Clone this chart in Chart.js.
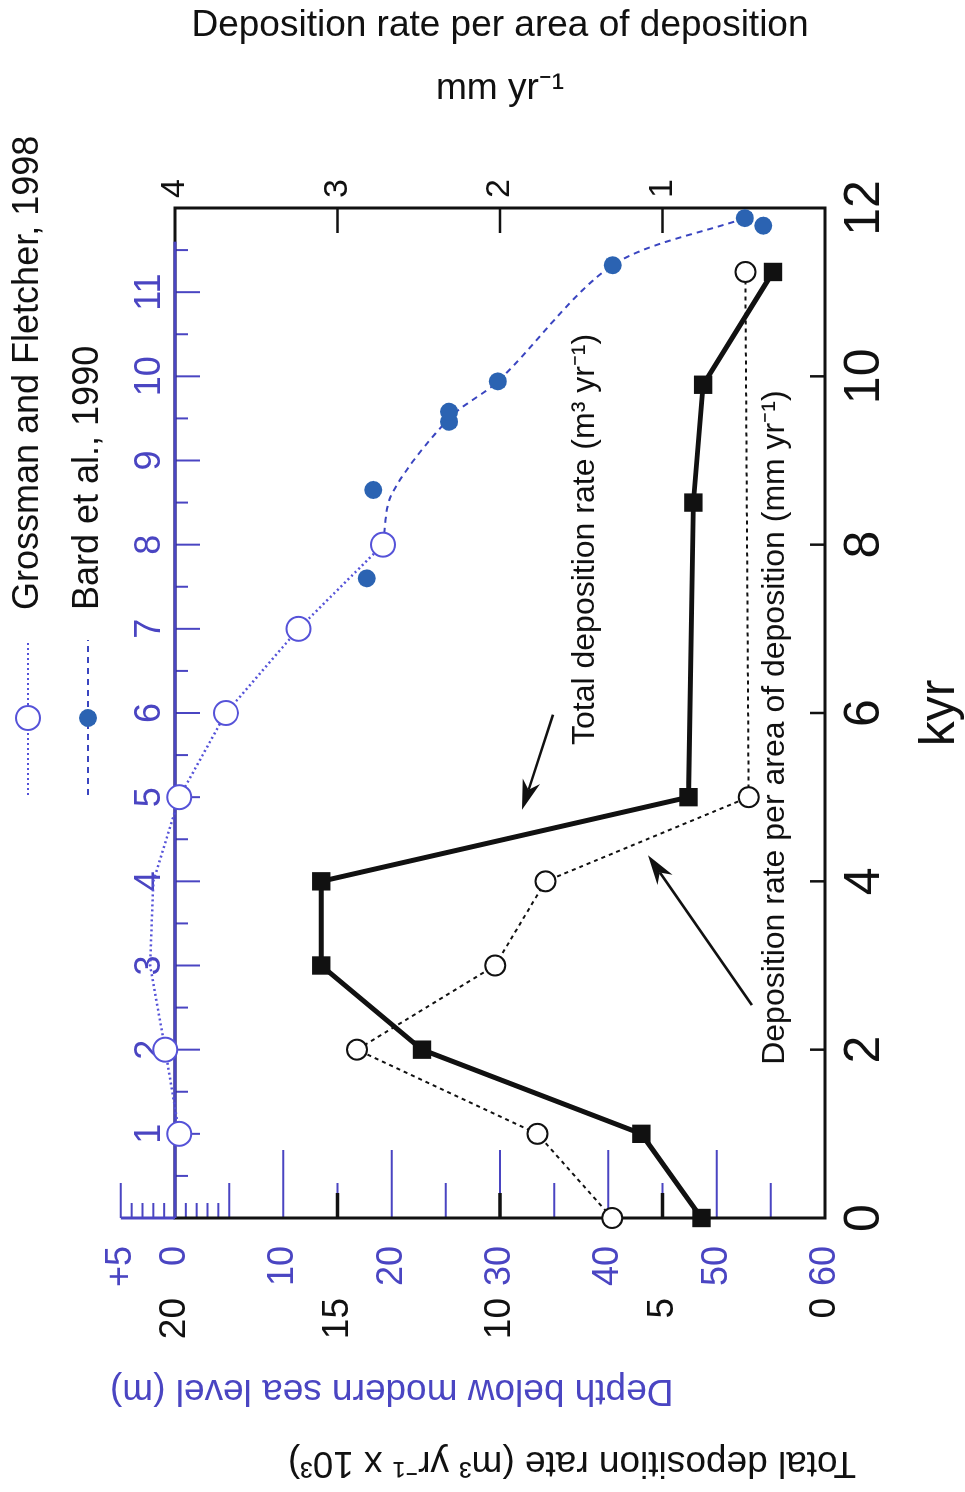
<!DOCTYPE html>
<html>
<head>
<meta charset="utf-8">
<title>Deposition rates, 0-12 kyr</title>
<script src="https://cdn.jsdelivr.net/npm/chart.js@4.4.1/dist/chart.umd.min.js"></script>
<style>
    html, body { margin: 0; padding: 0; background: #fff; overflow: hidden; }
    body { width: 965px; height: 1492px; position: relative; }
    /* the figure is laid out landscape and then turned a quarter turn counter-clockwise */
    #figure {
        position: absolute; left: 0; top: 0;
        width: 1492px; height: 965px;
        transform-origin: 0 0;
        transform: translateY(1492px) rotate(-90deg);
    }
</style>
</head>
<body>
<div id="figure"><canvas id="depositionChart" width="1492" height="965"></canvas></div>
<script>
// Axis ticks
const kyrTicks = [0, 2, 4, 6, 8, 10, 12];
const kyrTopTicks = [1, 2, 3, 4, 5, 6, 7, 8, 9, 10, 11];
const kyrTopHalfTicks = [0.5, 1.5, 2.5, 3.5, 4.5, 5.5, 6.5, 7.5, 8.5, 9.5, 10.5, 11.5];
const kyrInnerTicks = [2, 4, 6, 8, 10];
const depthTicks = [-5, 0, 10, 20, 30, 40, 50, 60];
const depthLongTicks = [10, 20, 30, 40, 50];
const depthMidTicks = [-5, 5, 15, 25, 35, 45, 55];
const depthShortTicks = [-4, -3, -2, -1, 1, 2, 3, 4];
const totalTicks = [0, 5, 10, 15, 20];
const totalInnerTicks = [5, 10, 15];
const rateTicks = [1, 2, 3, 4];
const rateInnerTicks = [1, 2, 3];

// Grossman and Fletcher, 1998 - depth below modern sea level (m)
const gfKyr = [1, 2, 3, 4, 5, 6, 7, 8];
const gfDepth = [0.4, -0.9, -2.3, -2.0, 0.4, 4.7, 11.4, 19.2];

// Bard et al., 1990 - dated samples and their dashed curve
const bardKyr = [7.6, 8.65, 9.46, 9.58, 9.94, 11.32, 11.79, 11.88];
const bardDepth = [17.7, 18.3, 25.3, 25.3, 29.8, 40.4, 54.3, 52.6];
const bardCurveKyr = [8.0, 8.6, 9.5, 9.94, 11.32, 11.88];
const bardCurveDepth = [19.2, 20.0, 25.3, 29.8, 40.4, 52.6];

// Total deposition rate (m3 yr-1 x 10^3)
const totalKyr = [0, 1, 2, 3, 4, 5, 8.5, 9.9, 11.24];
const totalRate = [3.8, 5.65, 12.4, 15.5, 15.5, 4.2, 4.05, 3.75, 1.6];

// Deposition rate per area of deposition (mm yr-1)
const areaKyr = [0, 1, 2, 3, 4, 5, 11.24];
const areaRate = [1.31, 1.77, 2.88, 2.03, 1.72, 0.47, 0.49];

// Annotations, placed in data units (kyr, total deposition rate)
const notes = [
    { text: 'Total deposition rate (m³ yr⁻¹)', kyr: 5.62, value: 7.38 },
    { text: 'Deposition rate per area of deposition (mm yr⁻¹)', kyr: 1.82, value: 1.54 }
];
const arrows = [
    { fromKyr: 5.98, fromValue: 8.37, toKyr: 4.85, toValue: 9.32 },
    { fromKyr: 2.53, fromValue: 2.25, toKyr: 4.31, toValue: 5.45 }
];

const INK = '#111111';
const BLUE_TEXT = '#4a45c2';
const GF_BLUE = '#5552d8';
const BARD_BLUE = '#2b63b2';
const BARD_LINE = '#3a45c0';
const FAMILY = '"Liberation Sans", Arial, Helvetica, sans-serif';
const font = size => size + 'px ' + FAMILY;

Chart.defaults.font.family = FAMILY;
Chart.defaults.color = INK;

const toPoints = (xs, ys) => xs.map((x, i) => ({ x: x, y: ys[i] }));
const setTicks = values => scale => { scale.ticks = values.map(v => ({ value: v })); };

/**
 * Frame, inward ticks, side titles, annotations and legend
 */
const figureDecor = {
    id: 'figureDecor',
    beforeDatasetsDraw(chart) {
        const { ctx, chartArea: a, scales } = chart;
        const { x, xTop, depth, total, rate } = scales;

        const tick = (x1, y1, x2, y2, color, width) => {
            ctx.strokeStyle = color;
            ctx.lineWidth = width;
            ctx.beginPath();
            ctx.moveTo(x1, y1);
            ctx.lineTo(x2, y2);
            ctx.stroke();
        };

        ctx.save();
        // depth ticks along the left edge (some sit above the frame, up to +5 m)
        depthLongTicks.forEach(v => { const p = depth.getPixelForValue(v); tick(a.left, p, a.left + 68, p, BLUE_TEXT, 2); });
        depthMidTicks.forEach(v => { const p = depth.getPixelForValue(v); tick(a.left, p, a.left + 35, p, BLUE_TEXT, 2); });
        depthShortTicks.forEach(v => { const p = depth.getPixelForValue(v); tick(a.left, p, a.left + 15, p, BLUE_TEXT, 2); });
        totalInnerTicks.forEach(v => { const p = total.getPixelForValue(v); tick(a.left, p, a.left + 25, p, INK, 3.5); });

        // kyr ticks on the top edge (blue) and bottom edge
        kyrTopTicks.forEach(v => { const p = xTop.getPixelForValue(v); tick(p, a.top, p, a.top + 25, BLUE_TEXT, 2); });
        kyrTopHalfTicks.forEach(v => { const p = xTop.getPixelForValue(v); tick(p, a.top, p, a.top + 13, BLUE_TEXT, 2); });
        kyrInnerTicks.forEach(v => { const p = x.getPixelForValue(v); tick(p, a.bottom, p, a.bottom - 15, INK, 2.5); });
        rateInnerTicks.forEach(v => { const p = rate.getPixelForValue(v); tick(a.right, p, a.right - 25, p, INK, 2.5); });

        // frame
        ctx.strokeStyle = INK;
        ctx.lineWidth = 3;
        ctx.strokeRect(a.left, a.top, a.right - a.left, a.bottom - a.top);
        tick(a.left, a.top, xTop.getPixelForValue(11.6), a.top, BLUE_TEXT, 3);
        tick(a.left, depth.getPixelForValue(-5), a.left, a.top, BLUE_TEXT, 3);
        ctx.restore();
    },
    afterDraw(chart) {
        const { ctx, scales } = chart;
        const { x, depth, total } = scales;
        ctx.save();

        // titles of the two left axes
        const sideTitle = (text, cx, cy, color) => {
            ctx.save();
            ctx.translate(cx, cy);
            ctx.rotate(-Math.PI / 2);
            ctx.font = font(37);
            ctx.fillStyle = color;
            ctx.textAlign = 'center';
            ctx.textBaseline = 'middle';
            ctx.fillText(text, 0, 0);
            ctx.restore();
        };
        sideTitle('Depth below modern sea level (m)', 102, depth.getPixelForValue(20), BLUE_TEXT);
        sideTitle('Total deposition rate (m³ yr⁻¹ x 10³)', 30, 572, INK);

        // annotation texts
        ctx.font = font(32);
        ctx.fillStyle = INK;
        ctx.textAlign = 'left';
        ctx.textBaseline = 'middle';
        notes.forEach(n => ctx.fillText(n.text, x.getPixelForValue(n.kyr), total.getPixelForValue(n.value)));

        // arrows
        ctx.strokeStyle = INK;
        ctx.lineWidth = 2.5;
        arrows.forEach(ar => {
            const x1 = x.getPixelForValue(ar.fromKyr), y1 = total.getPixelForValue(ar.fromValue);
            const x2 = x.getPixelForValue(ar.toKyr), y2 = total.getPixelForValue(ar.toValue);
            const ang = Math.atan2(y2 - y1, x2 - x1);
            const c = Math.cos(ang), s = Math.sin(ang);
            const len = 30, half = 9;
            ctx.beginPath();
            ctx.moveTo(x1, y1);
            ctx.lineTo(x2 - c * len * 0.7, y2 - s * len * 0.7);
            ctx.stroke();
            ctx.beginPath();
            ctx.moveTo(x2, y2);
            ctx.lineTo(x2 - c * len + s * half, y2 - s * len - c * half);
            ctx.lineTo(x2 - c * len * 0.7, y2 - s * len * 0.7);
            ctx.lineTo(x2 - c * len - s * half, y2 - s * len + c * half);
            ctx.closePath();
            ctx.fillStyle = INK;
            ctx.fill();
        });

        // legend (two rows above the plot)
        const gf = chart.data.datasets[2];
        const bard = chart.data.datasets[3];
        const legendRow = (ds, lineColor, dash, y) => {
            ctx.strokeStyle = lineColor;
            ctx.lineWidth = 2;
            ctx.setLineDash(dash);
            ctx.beginPath();
            ctx.moveTo(697, y);
            ctx.lineTo(852, y);
            ctx.stroke();
            ctx.setLineDash([]);
            ctx.beginPath();
            ctx.arc(774, y, ds.pointRadius, 0, Math.PI * 2);
            ctx.fillStyle = ds.pointBackgroundColor;
            ctx.fill();
            if (ds.pointBorderWidth) {
                ctx.lineWidth = ds.pointBorderWidth;
                ctx.strokeStyle = ds.pointBorderColor;
                ctx.stroke();
            }
            ctx.font = font(36);
            ctx.fillStyle = INK;
            ctx.textAlign = 'left';
            ctx.textBaseline = 'middle';
            ctx.fillText(ds.label, 882, y);
        };
        legendRow(gf, GF_BLUE, [2, 3], 28);
        legendRow(bard, BARD_LINE, [6, 5], 88);

        ctx.restore();
    }
};

const noGrid = { display: false, drawTicks: false };

new Chart(document.getElementById('depositionChart'), {
    type: 'scatter',
    data: {
        datasets: [
            {
                label: 'Total deposition rate',
                data: toPoints(totalKyr, totalRate),
                yAxisID: 'total',
                showLine: true,
                borderColor: INK,
                borderWidth: 5,
                pointStyle: 'rect',
                pointRadius: 13,
                pointBackgroundColor: INK,
                pointBorderColor: INK,
                pointBorderWidth: 0,
                clip: false
            },
            {
                label: 'Deposition rate per area of deposition',
                data: toPoints(areaKyr, areaRate),
                yAxisID: 'rate',
                showLine: true,
                borderColor: INK,
                borderWidth: 2,
                borderDash: [4, 4],
                pointStyle: 'circle',
                pointRadius: 10,
                pointBackgroundColor: '#ffffff',
                pointBorderColor: INK,
                pointBorderWidth: 2,
                clip: false
            },
            {
                label: 'Grossman and Fletcher, 1998',
                data: toPoints(gfKyr, gfDepth),
                yAxisID: 'depth',
                showLine: true,
                borderColor: GF_BLUE,
                borderWidth: 2.5,
                borderDash: [2, 3],
                pointStyle: 'circle',
                pointRadius: 12,
                pointBackgroundColor: '#ffffff',
                pointBorderColor: GF_BLUE,
                pointBorderWidth: 2,
                clip: false
            },
            {
                label: 'Bard et al., 1990',
                data: toPoints(bardKyr, bardDepth),
                yAxisID: 'depth',
                showLine: false,
                pointStyle: 'circle',
                pointRadius: 9,
                pointBackgroundColor: BARD_BLUE,
                pointBorderColor: BARD_BLUE,
                pointBorderWidth: 0,
                clip: false
            },
            {
                label: 'Bard et al., 1990 curve',
                data: toPoints(bardCurveKyr, bardCurveDepth),
                yAxisID: 'depth',
                showLine: true,
                borderColor: BARD_LINE,
                borderWidth: 2,
                borderDash: [6, 5],
                tension: 0.3,
                pointRadius: 0,
                clip: false
            }
        ]
    },
    options: {
        responsive: false,
        devicePixelRatio: 1,
        animation: false,
        events: [],
        layout: { padding: 0 },
        plugins: {
            legend: { display: false },
            tooltip: { enabled: false }
        },
        scales: {
            x: {
                type: 'linear',
                position: 'bottom',
                min: 0,
                max: 12,
                afterBuildTicks: setTicks(kyrTicks),
                afterFit: scale => { scale.height = 140; },
                grid: noGrid,
                border: { display: false },
                ticks: { autoSkip: false, padding: 10, color: INK, font: { size: 50 } },
                title: { display: true, text: 'kyr', color: INK, font: { size: 50 }, padding: { top: 0, bottom: -5 } }
            },
            xTop: {
                type: 'linear',
                position: 'top',
                min: 0,
                max: 12,
                afterBuildTicks: setTicks(kyrTopTicks),
                afterFit: scale => { scale.height = 175; },
                grid: noGrid,
                border: { display: false },
                ticks: { autoSkip: false, padding: 3, color: BLUE_TEXT, font: { size: 36 } }
            },
            depth: {
                type: 'linear',
                position: 'left',
                weight: 0,
                min: 0,
                max: 60,
                reverse: true,
                afterBuildTicks: setTicks(depthTicks),
                afterFit: scale => { scale.width = 80; },
                grid: noGrid,
                border: { display: false },
                ticks: {
                    autoSkip: false,
                    padding: 28,
                    color: BLUE_TEXT,
                    font: { size: 36 },
                    callback: v => (v < 0 ? '+' + (-v) : String(v))
                }
            },
            total: {
                type: 'linear',
                position: 'left',
                weight: 1,
                min: 0,
                max: 20,
                afterBuildTicks: setTicks(totalTicks),
                afterFit: scale => { scale.width = 194; },
                grid: noGrid,
                border: { display: false },
                ticks: { autoSkip: false, padding: 0, color: INK, font: { size: 37 } }
            },
            rate: {
                type: 'linear',
                position: 'right',
                min: 0,
                max: 4,
                afterBuildTicks: setTicks(rateTicks),
                afterFit: scale => { scale.width = 208; },
                grid: noGrid,
                border: { display: false },
                ticks: { autoSkip: false, padding: 10, color: INK, font: { size: 34 } },
                title: {
                    display: true,
                    text: ['Deposition rate per area of deposition', 'mm yr⁻¹'],
                    color: INK,
                    font: { size: 37, lineHeight: 1.7 },
                    padding: { top: -6, bottom: 0 }
                }
            }
        }
    },
    plugins: [figureDecor]
});
</script>
</body>
</html>
